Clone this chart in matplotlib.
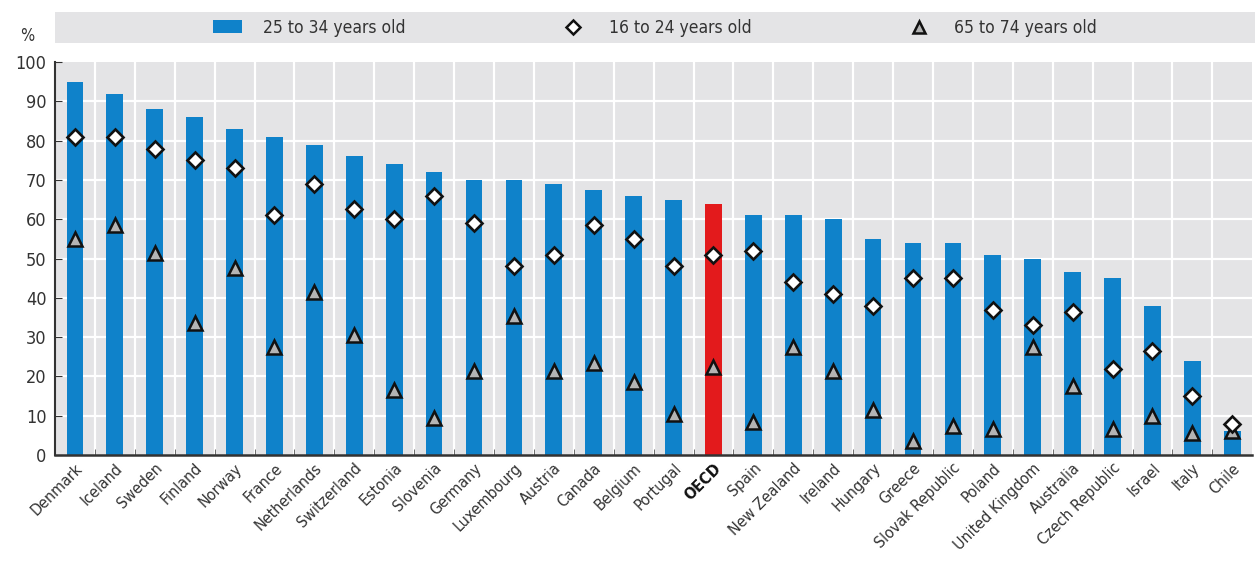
import matplotlib.pyplot as plt
import numpy as np
from matplotlib.lines import Line2D
from matplotlib.patches import Patch
from matplotlib import font_manager

countries = ["Denmark", "Iceland", "Sweden", "Finland", "Norway", "France", "Netherlands",
             "Switzerland", "Estonia", "Slovenia", "Germany", "Luxembourg", "Austria", "Canada",
             "Belgium", "Portugal", "OECD", "Spain", "New Zealand", "Ireland", "Hungary", "Greece",
             "Slovak Republic", "Poland", "United Kingdom", "Australia", "Czech Republic",
             "Israel", "Italy", "Chile"]
age_25_34 = [95, 92, 88, 86, 83, 81, 79, 76, 74, 72, 70, 70, 69, 67.5, 66, 65, 64, 61, 61, 60,
             55, 54, 54, 51, 50, 46.5, 45, 38, 24, 6]
age_16_24 = [81, 81, 78, 75, 73, 61, 69, 62.5, 60, 66, 59, 48, 51, 58.5, 55, 48, 51, 52, 44, 41,
             38, 45, 45, 37, 33, 36.5, 22, 26.5, 15, 8]
age_65_74 = [55, 58.5, 51.5, 33.5, 47.5, 27.5, 41.5, 30.5, 16.5, 9.5, 21.5, 35.5, 21.5, 23.5,
             18.5, 10.5, 22.5, 8.5, 27.5, 21.5, 11.5, 3.5, 7.5, 6.5, 27.5, 17.5, 6.5, 10, 5.5, 6]

# condensed face if the system has it
names = {f.name for f in font_manager.fontManager.ttflist}
condensed = [f for f in font_manager.fontManager.ttflist
             if f.name == "DejaVu Sans" and "ondensed" in f.fname]
if "Liberation Sans Narrow" in names:
    plt.rcParams['font.family'] = ['Liberation Sans Narrow', 'DejaVu Sans']
elif condensed:
    plt.rcParams['font.family'] = ['DejaVu Sans']
    plt.rcParams['font.stretch'] = 'condensed'
else:
    plt.rcParams['font.family'] = ['Liberation Sans', 'DejaVu Sans']

blue = "#0f82ca"
red = "#e31a1c"
grey_bg = "#e4e4e6"
text_col = "#333333"

fig = plt.figure(figsize=(12.55, 5.67), dpi=100)
ax = fig.add_axes([0.0438, 0.1975, 0.954, 0.693])
ax.set_facecolor(grey_bg)

x = np.arange(len(countries))
colors = [red if c == "OECD" else blue for c in countries]
ax.bar(x, age_25_34, width=0.42, color=colors, zorder=3)
ax.plot(x, age_16_24, linestyle="none", marker="D", markersize=8.3, markerfacecolor="white",
        markeredgecolor="#111111", markeredgewidth=1.9, zorder=5)
ax.plot(x, age_65_74, linestyle="none", marker="^", markersize=10, markerfacecolor="#b4b4b4",
        markeredgecolor="#111111", markeredgewidth=1.8, zorder=4)

ax.set_xlim(-0.5, len(countries) - 0.5)
ax.set_ylim(0, 100)
ax.set_yticks(range(0, 101, 10))
ax.set_yticklabels([str(v) for v in range(0, 101, 10)], fontsize=13, color=text_col)

# gridlines: white, horizontal at every 10 and vertical between categories
for v in range(10, 100, 10):
    ax.axhline(v, color="white", linewidth=1.6, zorder=1)
for b in np.arange(0.5, len(countries) - 0.5, 1):
    ax.axvline(b, color="white", linewidth=1.6, zorder=1)

ax.set_xticks(x)
ax.set_xticklabels(countries, rotation=45, ha="right", rotation_mode="anchor", fontsize=11.5,
                   color=text_col)
for lbl in ax.get_xticklabels():
    if lbl.get_text() == "OECD":
        lbl.set_fontweight("bold")
        lbl.set_color("#111111")
ax.tick_params(axis="x", length=0, pad=4)
ax.set_xticks(np.arange(0.5, len(countries) - 0.5, 1), minor=True)
ax.tick_params(axis="x", which="minor", direction="in", length=4, color="#555555")
ax.tick_params(axis="y", direction="in", length=5, color="#333333", pad=6)

for s in ["top", "right"]:
    ax.spines[s].set_visible(False)
ax.spines["left"].set_color("#333333")
ax.spines["left"].set_linewidth(1.5)
ax.spines["bottom"].set_color("#333333")
ax.spines["bottom"].set_linewidth(1.8)
ax.spines["bottom"].set_zorder(6)

fig.text(0.016, 0.928, "%", fontsize=12, color=text_col)

# legend strip above the plot
leg_ax = fig.add_axes([0.0438, 0.924, 0.956, 0.0547])
leg_ax.set_facecolor(grey_bg)
leg_ax.set_xticks([])
leg_ax.set_yticks([])
for s in leg_ax.spines.values():
    s.set_visible(False)
handles = [
    Patch(facecolor=blue, edgecolor="none"),
    Line2D([], [], linestyle="none", marker="D", markersize=7.5, markerfacecolor="white",
           markeredgecolor="#111111", markeredgewidth=1.8),
    Line2D([], [], linestyle="none", marker="^", markersize=9, markerfacecolor="#b4b4b4",
           markeredgecolor="#111111", markeredgewidth=1.8),
]
leg_ax.legend(handles, ["25 to 34 years old", "16 to 24 years old", "65 to 74 years old"],
              loc="center", ncol=3, frameon=False, fontsize=12.5, columnspacing=8.8,
              handlelength=1.7, handletextpad=1.2, labelcolor=text_col)

fig.savefig("out.png", dpi=100)
